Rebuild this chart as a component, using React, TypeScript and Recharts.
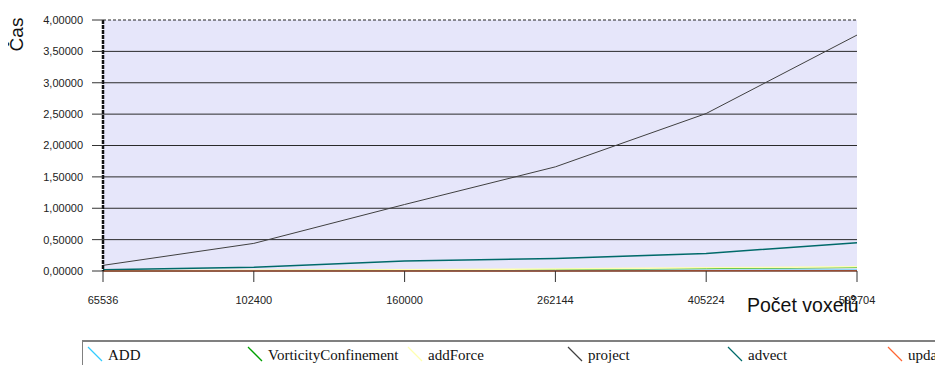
import React from 'react';
import {
  LineChart,
  Line,
  XAxis,
  YAxis,
  CartesianGrid,
  ReferenceLine,
} from 'recharts';

const voxels = ['65536', '102400', '160000', '262144', '405224', '592704'];

const addTimes = [0.003, 0.005, 0.007, 0.009, 0.012, 0.016];
const vorticityTimes = [0.004, 0.008, 0.015, 0.025, 0.038, 0.055];
const addForceTimes = [0.005, 0.01, 0.02, 0.033, 0.05, 0.068];
const projectTimes = [0.09, 0.44, 1.06, 1.66, 2.51, 3.76];
const advectTimes = [0.02, 0.06, 0.16, 0.2, 0.28, 0.45];
const updateTimes = [0.001, 0.001, 0.002, 0.002, 0.003, 0.004];

const yTicks = [0, 0.5, 1, 1.5, 2, 2.5, 3, 3.5, 4];

const series = [
  { key: 'ADD', values: addTimes, color: '#33ccff', width: 1 },
  { key: 'VorticityConfinement', values: vorticityTimes, color: '#00a000', width: 1 },
  { key: 'addForce', values: addForceTimes, color: '#ffffb0', width: 1.5 },
  { key: 'project', values: projectTimes, color: '#404040', width: 1 },
  { key: 'advect', values: advectTimes, color: '#006a6a', width: 1.5 },
  { key: 'update', values: updateTimes, color: '#ff6633', width: 1.5 },
];

const data = voxels.map((v, i) => {
  const row: Record<string, string | number> = { voxels: v };
  series.forEach((s) => {
    row[s.key] = s.values[i];
  });
  return row;
});

const fmt = (v: number) => v.toFixed(5).replace('.', ',');

const sans = '"Liberation Sans", Arial, sans-serif';
const serif = '"Liberation Serif", "Times New Roman", serif';

function VoxelTimesChart() {
  return (
    <div style={{ position: 'relative', width: 935, height: 357 }}>
      <LineChart
        width={935}
        height={357}
        data={data}
        margin={{ top: 12, right: 86, bottom: 64, left: 0 }}
      >
        <CartesianGrid
          vertical={false}
          horizontalValues={[0.5, 1, 1.5, 2, 2.5, 3, 3.5]}
          stroke="#2a2a2a"
          strokeOpacity={1}
          fill="#e6e6fa"
          fillOpacity={1}
        />
        <XAxis
          dataKey="voxels"
          height={30}
          tickSize={11}
          tickMargin={14}
          interval={0}
          axisLine={{ stroke: '#333' }}
          tickLine={{ stroke: '#333' }}
          tick={{ fontSize: 11, fill: '#222', fontFamily: sans }}
        />
        <YAxis
          width={95}
          domain={[0, 4]}
          ticks={yTicks}
          tickSize={11}
          tickMargin={9}
          tickFormatter={fmt}
          axisLine={{ stroke: '#111', strokeWidth: 2.5, strokeDasharray: '4 1' }}
          tickLine={{ stroke: '#333' }}
          tick={{ fontSize: 11, fill: '#222', fontFamily: sans }}
        />
        <YAxis
          yAxisId="right"
          orientation="right"
          width={0}
          domain={[0, 4]}
          tick={false}
          tickLine={false}
          axisLine={{ stroke: '#222', strokeDasharray: '3 2' }}
        />
        <ReferenceLine y={4} stroke="#222" strokeDasharray="3 2" />
        {series.map((s) => (
          <Line
            key={s.key}
            type="linear"
            dataKey={s.key}
            stroke={s.color}
            strokeWidth={s.width}
            dot={false}
            isAnimationActive={false}
          />
        ))}
      </LineChart>

      {/* y axis title, rotated */}
      <div
        style={{
          position: 'absolute',
          left: -28.5,
          top: 16.5,
          width: 72,
          textAlign: 'center',
          fontFamily: sans,
          fontSize: 19,
          lineHeight: '19px',
          color: '#111',
          transform: 'rotate(-90deg)',
        }}
      >
        Čas
      </div>

      <div
        style={{
          position: 'absolute',
          left: 739,
          top: 286,
          fontFamily: sans,
          fontSize: 19.5,
          lineHeight: '22px',
          color: '#111',
          whiteSpace: 'nowrap',
        }}
      >
        Počet voxelů
      </div>

      {/* legend strip, runs to the right edge of the page */}
      <div
        style={{
          position: 'absolute',
          left: 74,
          top: 332,
          width: 861,
          height: 25,
          overflow: 'hidden',
          boxSizing: 'border-box',
          borderTop: '2px solid #808080',
          borderLeft: '1px solid #808080',
          display: 'flex',
          paddingTop: 5,
          paddingLeft: 4,
          fontFamily: serif,
          fontSize: 15,
          lineHeight: '17px',
          color: '#111',
          whiteSpace: 'nowrap',
        }}
      >
        {series.map((s) => (
          <div key={s.key} style={{ width: 160, flex: 'none', display: 'flex', alignItems: 'flex-start' }}>
            <svg width={16} height={16} style={{ marginTop: -1, marginRight: 5 }}>
              <line x1={1} y1={1} x2={15} y2={15} stroke={s.color} strokeWidth={1.3} />
            </svg>
            <span>{s.key}</span>
          </div>
        ))}
      </div>
    </div>
  );
}

export default function App() {
  return <VoxelTimesChart />;
}
